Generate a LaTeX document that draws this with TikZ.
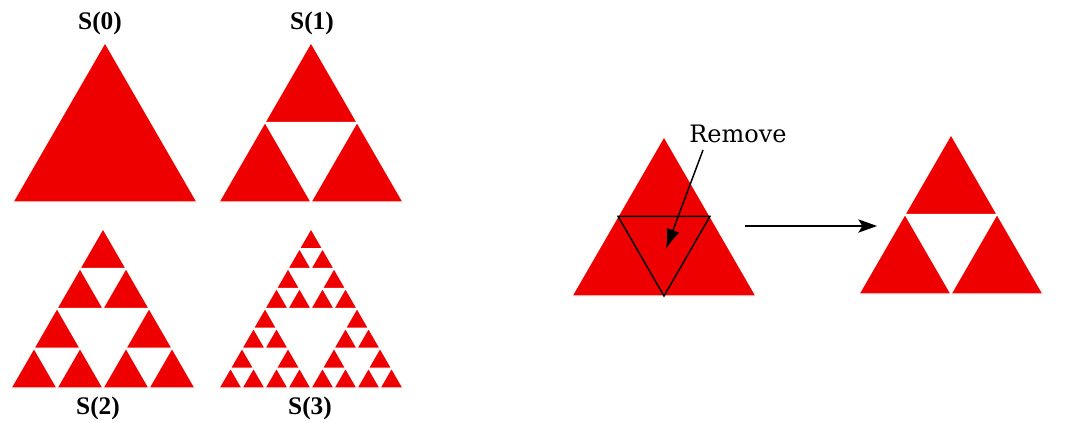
\documentclass[tikz,border=0pt]{standalone}
\usepackage{fontspec}
\setmainfont{DejaVu Serif}
\newfontfamily\labelfont{Liberation Serif}
\usetikzlibrary{arrows.meta}
\definecolor{sierred}{RGB}{238,0,0}
\tikzset{
  redtri/.style={fill=sierred,draw=white,line width=0.8pt},
  setlabel/.style={font=\labelfont\fontsize{19}{22}\selectfont\bfseries},
  steparrow/.style={line width=1.1pt,-{Stealth[length=14pt,width=10pt,inset=3pt]}},
}
% level, left base x, base y, side
\newcommand\sierp[4]{%
  \begingroup
  \pgfmathsetmacro\sierx{#2}%
  \pgfmathsetmacro\siery{#3}%
  \pgfmathsetmacro\sierside{#4}%
  \ifnum#1=0\relax
    \path[redtri] (\sierx,\siery) -- ++(\sierside,0) -- ++(-\sierside/2,-0.8660254*\sierside) -- cycle;
  \else
    \pgfmathsetmacro\sierhalf{\sierside/2}%
    \pgfmathsetmacro\sierright{\sierx+\sierhalf}%
    \pgfmathsetmacro\siertopx{\sierx+\sierhalf/2}%
    \pgfmathsetmacro\siertopy{\siery-0.8660254*\sierhalf}%
    \pgfmathtruncatemacro\sierlev{#1-1}%
    \sierp{\sierlev}{\sierx}{\siery}{\sierhalf}%
    \sierp{\sierlev}{\sierright}{\siery}{\sierhalf}%
    \sierp{\sierlev}{\siertopx}{\siertopy}{\sierhalf}%
  \fi
  \endgroup}
\begin{document}
\begin{tikzpicture}[x=0.75pt,y=-0.75pt]
	\useasboundingbox (0,0) rectangle (1068,422);
	% the four stages
	\sierp{0}{13}{202}{184}
	\sierp{1}{219}{202}{184}
	\sierp{2}{11}{388}{184}
	\sierp{3}{219}{388}{184}
	\node[setlabel] (lbl0) at (100,23) {S(0)};
	\node[setlabel] (lbl1) at (312,23) {S(1)};
	\node[setlabel] (lbl2) at (98,408) {S(2)};
	\node[setlabel] (lbl3) at (310,408) {S(3)};
	% one step
	\sierp{0}{572}{296}{184}
	\draw[line width=1.1pt] (618,216.3) -- (710,216.3) -- (664,296) -- cycle;
	\node[font=\fontsize{18}{20}\selectfont] (remove) at (738,134) {Remove};
	\coordinate (removefrom) at (703,150);
	\coordinate (removetip) at (666,249);
	\draw[line width=1.1pt,-{Latex[length=15pt,width=10pt]}] (removefrom) -- (removetip);
	\coordinate (stepfrom) at (745,226);
	\coordinate (stepto) at (877,226);
	\draw[steparrow] (stepfrom) -- (stepto);
	\sierp{1}{859}{294}{184}
\end{tikzpicture}
\end{document}
